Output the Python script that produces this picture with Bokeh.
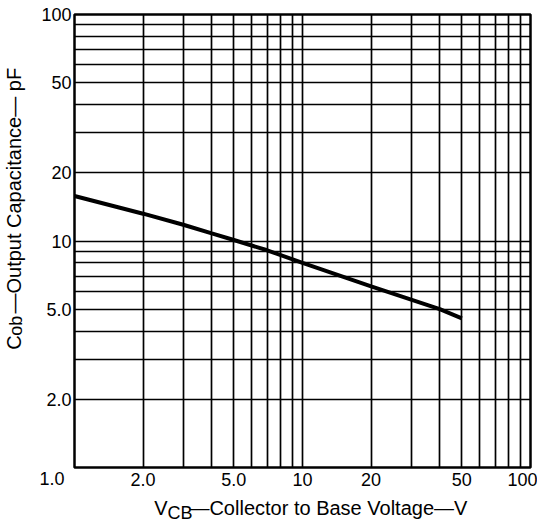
import math
from bokeh.plotting import figure
from bokeh.models import FixedTicker, LogAxis
from bokeh.embed import file_html
from bokeh.resources import INLINE

# Curve: output capacitance vs collector-base voltage
vcb = [1.0, 2.0, 3.0, 4.0, 5.0, 7.0, 10.0, 20.0, 40.0, 50.0]
cob = [15.8, 13.2, 11.8, 10.8, 10.1, 9.1, 8.0, 6.3, 5.0, 4.55]

grid_values = [1, 2, 3, 4, 5, 6, 7, 8, 9, 10, 20, 30, 40, 50, 60, 70, 80, 90, 100]
x_tick_values = [2, 5, 10, 20, 50, 100]
x_tick_labels = ["2.0", "5.0", "10", "20", "50", "100"]
y_tick_values = [2, 5, 10, 20, 50, 100]
y_tick_labels = ["2.0", "5.0", "10", "20", "50", "100"]
corner_tick = 1
corner_label = "1.0"

x_title_parts = ["V", "\u2014Collector to Base Voltage\u2014V"]
x_title_sub = "CB"
y_title_parts = ["C", "\u2014Output Capacitance\u2014 pF"]
y_title_sub = "ob"

FONT = "Liberation Sans"
TICK_FS = "18px"
TITLE_FS = "20px"
SUB_FS = "18px"

FL, FT, FW, FH = 72, 14, 458, 455   # intended frame placement in px


def px_to_x(px):
    return round(10 ** ((px - FL) / FW * 2), 6)


def py_to_y(py):
    return round(10 ** ((FT + FH - py) / FH * 2), 6)


p = figure(width=537, height=525, x_axis_type="log", y_axis_type="log",
           x_range=(1, 100), y_range=(1, 100),
           output_backend="svg", toolbar_location=None,
           min_border_left=FL, min_border_right=7, min_border_top=FT, min_border_bottom=0)

p.background_fill_color = "white"
p.border_fill_color = "white"
p.outline_line_color = "black"
p.outline_line_width = 2.5

for g in (p.xgrid, p.ygrid):
    g.ticker = FixedTicker(ticks=grid_values)
    g.grid_line_color = "black"
    g.grid_line_width = 1.7
    g.grid_line_alpha = 1.0


def style_axis(ax, fs):
    ax.axis_line_color = None
    ax.major_tick_in = 0
    ax.major_tick_out = 0
    ax.minor_tick_in = 0
    ax.minor_tick_out = 0
    ax.major_label_text_font = FONT
    ax.major_label_text_font_size = fs
    ax.major_label_text_color = "black"


p.xaxis.ticker = FixedTicker(ticks=x_tick_values, minor_ticks=[])
p.yaxis.ticker = FixedTicker(ticks=y_tick_values, minor_ticks=[])
p.xaxis.major_label_overrides = {v: l for v, l in zip(x_tick_values, x_tick_labels)}
p.yaxis.major_label_overrides = {v: l for v, l in zip(y_tick_values, y_tick_labels)}
style_axis(p.xaxis[0], TICK_FS)
style_axis(p.yaxis[0], TICK_FS)
p.xaxis.major_label_standoff = 5
p.yaxis.major_label_standoff = 3


def text_axis(side, ticks, labels, standoff, fs, orientation="horizontal"):
    ax = LogAxis(ticker=FixedTicker(ticks=ticks, minor_ticks=[]),
                 major_label_overrides={t: l for t, l in zip(ticks, labels)},
                 major_label_standoff=standoff,
                 major_label_orientation=orientation)
    style_axis(ax, fs)
    p.add_layout(ax, side)
    return ax


# corner "1.0" label (sits left of the x=1 corner), pulled up into the tick-label row
text_axis("below", [corner_tick], [corner_label + "\u00a0" * 9], -20, TICK_FS)

# x title: V + "—Collector..." on one row, CB subscript slightly lower
text_axis("below", [px_to_x(158.7), px_to_x(327)], x_title_parts, 5, TITLE_FS)
text_axis("below", [px_to_x(178)], [x_title_sub], -19, SUB_FS)

# y title (reading upward), ob subscript slightly shifted
text_axis("left", [py_to_y(343.5), py_to_y(191)], y_title_parts, 13, TITLE_FS, orientation="parallel")
text_axis("left", [py_to_y(326.5)], [y_title_sub], -26, SUB_FS, orientation="parallel")

p.line(vcb, cob, line_color="black", line_width=4)

open("out.html", "w").write(file_html(p, INLINE))
